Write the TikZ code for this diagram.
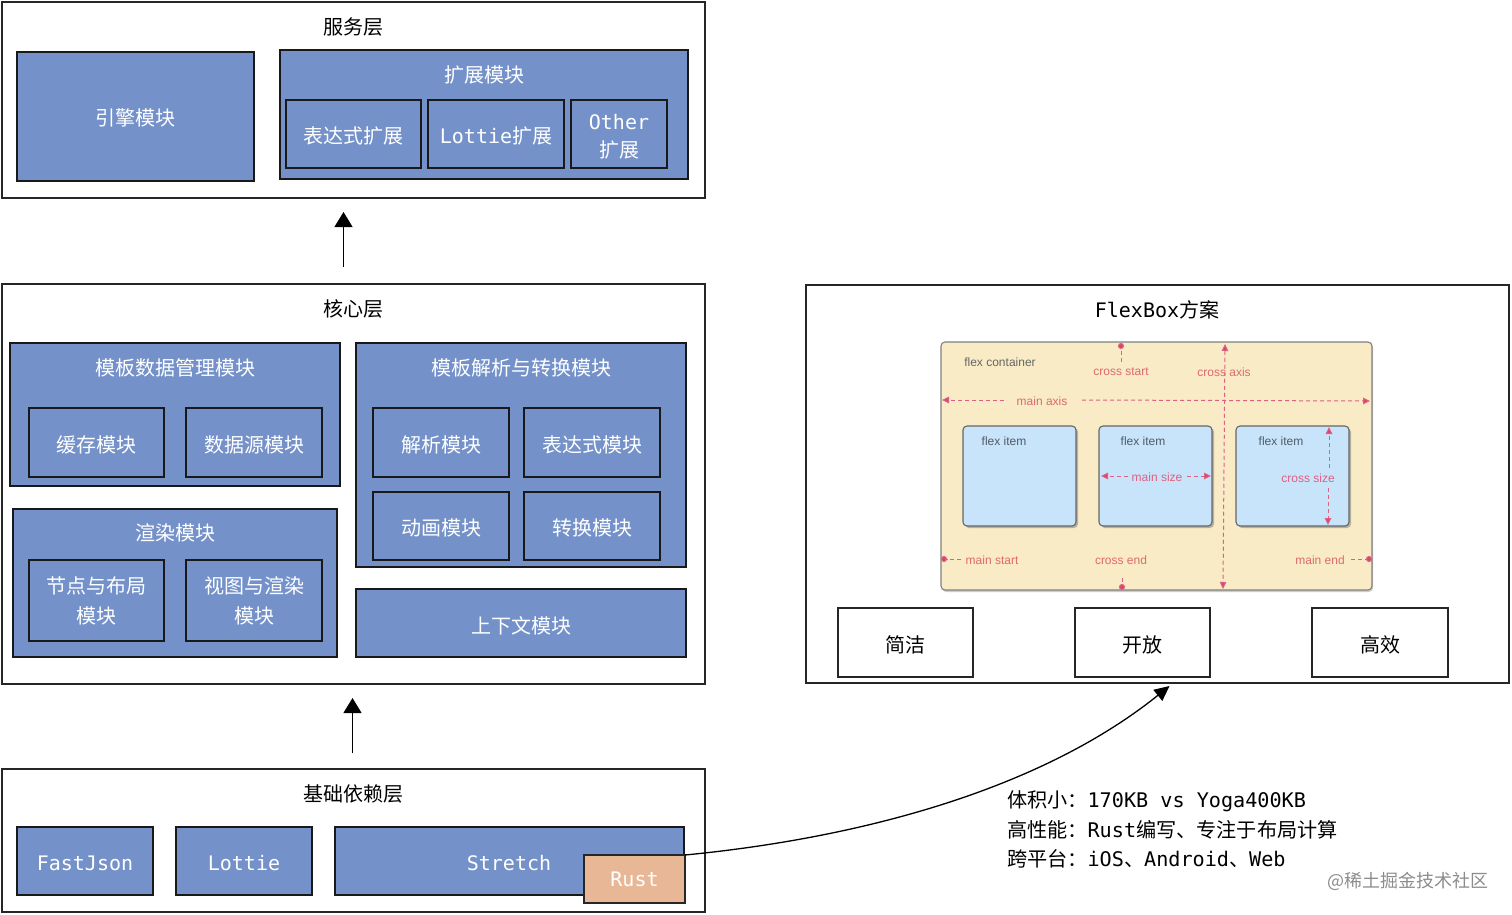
\documentclass[tikz,border=0pt]{standalone}
\usepackage{fontspec}
\setmainfont{DejaVu Sans Mono}
\newfontfamily\cjk{Noto Sans CJK SC}
\newfontfamily\hv{Liberation Sans}
\usetikzlibrary{arrows.meta,shadows,calc}
\definecolor{mblue}{HTML}{7492C9}
\definecolor{mrust}{HTML}{E8B896}
\definecolor{mcream}{HTML}{F8EBC6}
\definecolor{mitem}{HTML}{C8E4FB}
\definecolor{mpink}{HTML}{D8456B}
\definecolor{mred}{HTML}{DE6A6E}
\newcommand{\zh}[1]{{\cjk #1}}
\newcommand{\dn}[2][4pt]{\raisebox{0pt}[\dimexpr\height+#1\relax][\depth]{#2}}
\newcommand{\bx}[7]{\node[#6,minimum width={(#4-#2)*1pt},minimum height={(#5-#3)*1pt}] (#1) at ({(#2+#4)/2},{(#3+#5)/2}) {#7};}
\tikzset{
  x=1pt,y=-1pt,
  every node/.style={inner sep=0pt,outer sep=0pt,font=\fontsize{20}{30}\selectfont,text=black,align=center},
  layerbox/.style={draw=black!85,line width=1.5pt,fill=white},
  bluebox/.style={draw=black!90,line width=1.7pt,fill=mblue,text=white},
  subbox/.style={draw=black!90,line width=1.7pt,text=white},
  whitebox/.style={draw=black!85,line width=1.7pt,fill=white},
  rustbox/.style={draw=black!85,line width=1.7pt,fill=mrust,text=white},
  lbl/.style={text=white},
  blk/.style={text=black},
  bigarrow/.style={draw=black,line width=1.2pt,-{Triangle[length=15pt,width=18pt]}},
  flexc/.style={draw=black!50,line width=1.1pt,rounded corners=4pt,fill=mcream,drop shadow={shadow xshift=1pt,shadow yshift=-2pt,opacity=.4}},
  flexi/.style={draw=black!60,line width=1.1pt,rounded corners=4pt,fill=mitem,drop shadow={shadow xshift=2pt,shadow yshift=-2pt,opacity=.55}},
  ft/.style={font=\hv\fontsize{12}{14}\selectfont,text=black!60},
  fi/.style={font=\hv\fontsize{12}{14}\selectfont,text=black!60!mitem},
  fr/.style={font=\hv\fontsize{12}{14}\selectfont,text=mred},
  fp/.style={font=\hv\fontsize{12}{14}\selectfont,text=mpink!85},
  dashline/.style={draw=mpink!85,line width=1pt,dash pattern=on 4pt off 3pt},
  dtip/.style={dashline,{Triangle[length=7pt,width=6.5pt,fill=mpink]}-{Triangle[length=7pt,width=6.5pt,fill=mpink]}},
  dtipe/.style={dashline,-{Triangle[length=7pt,width=6.5pt,fill=mpink]}},
  ddot/.style={dashline,-{Circle[length=6pt,fill=mpink]}},
}
\begin{document}
\begin{tikzpicture}
\useasboundingbox (0,0) rectangle (1512,915);
% service layer
\bx{serv}{2}{2}{705}{198}{layerbox}{}
\node[blk] (servt) at (353,27) {\zh{服务层}};
\bx{engine}{17}{52}{254}{181}{bluebox}{\dn[2pt]{\zh{引擎模块}}}
\bx{ext}{280}{50}{688}{179}{bluebox}{}
\node[lbl] (extt) at (484,75) {\zh{扩展模块}};
\bx{exta}{286}{100}{421}{168}{subbox}{\dn[3pt]{\zh{表达式扩展}}}
\bx{extb}{428}{100}{564}{168}{subbox}{\dn[3pt]{Lottie\zh{扩展}}}
\bx{extc}{571}{100}{667}{168}{subbox}{\dn[6pt]{Other}\\[-2pt]\zh{扩展}}
% core layer
\bx{core}{2}{284}{705}{684}{layerbox}{}
\node[blk] (coret) at (353,309) {\zh{核心层}};
\bx{tdata}{10}{343}{340}{486}{bluebox}{}
\node[lbl] (tdatat) at (175,367.5) {\zh{模板数据管理模块}};
\bx{cache}{29}{408}{164}{477}{subbox}{\dn{\zh{缓存模块}}}
\bx{dsrc}{186}{408}{322}{477}{subbox}{\dn{\zh{数据源模块}}}
\bx{rend}{13}{509}{337}{657}{bluebox}{}
\node[lbl] (rendt) at (175,533) {\zh{渲染模块}};
\bx{nodes}{29}{560}{164}{641}{subbox}{\zh{节点与布局}\\\zh{模块}}
\bx{views}{186}{560}{322}{641}{subbox}{\zh{视图与渲染}\\\zh{模块}}
\bx{tpar}{356}{343}{686}{567}{bluebox}{}
\node[lbl] (tpart) at (521,367.5) {\zh{模板解析与转换模块}};
\bx{parse}{373}{408}{509}{477}{subbox}{\dn{\zh{解析模块}}}
\bx{expr}{524}{408}{660}{477}{subbox}{\dn{\zh{表达式模块}}}
\bx{anim}{373}{492}{509}{560}{subbox}{\dn{\zh{动画模块}}}
\bx{conv}{524}{492}{660}{560}{subbox}{\dn{\zh{转换模块}}}
\bx{ctx}{356}{589}{686}{657}{bluebox}{\dn[5pt]{\zh{上下文模块}}}
% base layer
\bx{base}{2}{769}{705}{912}{layerbox}{}
\node[blk] (baset) at (353,794) {\zh{基础依赖层}};
\bx{fj}{17}{827}{153}{895}{bluebox}{\dn{FastJson}}
\bx{lot}{176}{827}{312}{895}{bluebox}{\dn{Lottie}}
\bx{stre}{335}{827}{684}{895}{bluebox}{}
\node[lbl] (stret) at (509,863) {Stretch};
\bx{rust}{584}{855}{685}{903}{rustbox}{Rust}
% flexbox panel
\bx{flex}{806}{285}{1509}{683}{layerbox}{}
\node[blk] (flext) at (1157,310) {FlexBox\zh{方案}};
\bx{fc}{941}{342}{1372}{590}{flexc}{}
\bx{fi1}{963}{426}{1076}{526}{flexi}{}
\bx{fi2}{1099}{426}{1212}{526}{flexi}{}
\bx{fi3}{1236}{426}{1349}{526}{flexi}{}
\node[ft] (t1) at (1000,362) {flex container};
\node[fi] (t2) at (1004,441) {flex item};
\node[fi] (t3) at (1143,441) {flex item};
\node[fi] (t4) at (1281,441) {flex item};
\node[fr] (t5) at (1121,372) {cross start};
\node[fr] (t6) at (1224,372) {cross axis};
\node[fr] (t7) at (1042,401) {main axis};
\node[fp] (t8) at (1157,477) {main size};
\node[fp] (t9) at (1308,478) {cross size};
\node[fr] (t10) at (992,560) {main start};
\node[fr] (t11) at (1121,560) {cross end};
\node[fr] (t12) at (1320,560) {main end};
\coordinate (a1) at (1004,400); \coordinate (a2) at (942,400);
\coordinate (a3) at (1082,400); \coordinate (a4) at (1370,401);
\coordinate (a5) at (1225,344); \coordinate (a6) at (1223,589);
\coordinate (a7) at (1121,362); \coordinate (a8) at (1121,343);
\coordinate (a9) at (1122,578); \coordinate (a10) at (1122,590);
\coordinate (a11) at (961,559); \coordinate (a12) at (941,559);
\coordinate (a13) at (1351,559); \coordinate (a14) at (1372,559);
\coordinate (a15) at (1128,476); \coordinate (a16) at (1101,476);
\coordinate (a17) at (1187,476); \coordinate (a18) at (1211,476);
\coordinate (a19) at (1329,468); \coordinate (a20) at (1329,427);
\coordinate (a21) at (1328,488); \coordinate (a22) at (1328,525);
\draw[dtipe] (a1) -- (a2);
\draw[dtipe] (a3) -- (a4);
\draw[dtip] (a5) -- (a6);
\draw[ddot] (a7) -- (a8);
\draw[ddot] (a9) -- (a10);
\draw[ddot] (a11) -- (a12);
\draw[ddot] (a13) -- (a14);
\draw[dtipe] (a15) -- (a16);
\draw[dtipe] (a17) -- (a18);
\draw[dtipe] (a19) -- (a20);
\draw[dtipe] (a21) -- (a22);
\bx{b1}{838}{608}{973}{677}{whitebox}{\dn{\zh{简洁}}}
\bx{b2}{1075}{608}{1210}{677}{whitebox}{\dn{\zh{开放}}}
\bx{b3}{1312}{608}{1448}{677}{whitebox}{\dn{\zh{高效}}}
% notes
\node[anchor=west,blk,font=\fontsize{20.15}{30}\selectfont] (n1) at (1007,801) {\zh{体积小：}170KB vs Yoga400KB};
\node[anchor=west,blk,font=\fontsize{20.15}{30}\selectfont] (n2) at (1007,830) {\zh{高性能：}Rust\zh{编写、专注于布局计算}};
\node[anchor=west,blk,font=\fontsize{20.15}{30}\selectfont] (n3) at (1007,859) {\zh{跨平台：}iOS\zh{、}Android\zh{、}Web};
\node[anchor=west,font=\cjk\fontsize{18}{20}\selectfont,text=black!45] (wm) at (1327,881) {@稀土掘金技术社区};
% arrows
\draw[bigarrow,shorten <=17pt,shorten >=14pt] ([xshift=-10pt]core.north) -- ([xshift=-10pt]serv.south);
\draw[bigarrow,shorten <=16pt,shorten >=14pt] ([xshift=-1pt]base.north) -- ([xshift=-1pt]core.south);
\draw[line width=1.3pt,-{Triangle[length=15pt,width=14pt]}] (rust.north east) .. controls (860,838) and (1040,790) .. ([xshift=12pt,yshift=-3pt]flex.south);
\end{tikzpicture}
\end{document}
